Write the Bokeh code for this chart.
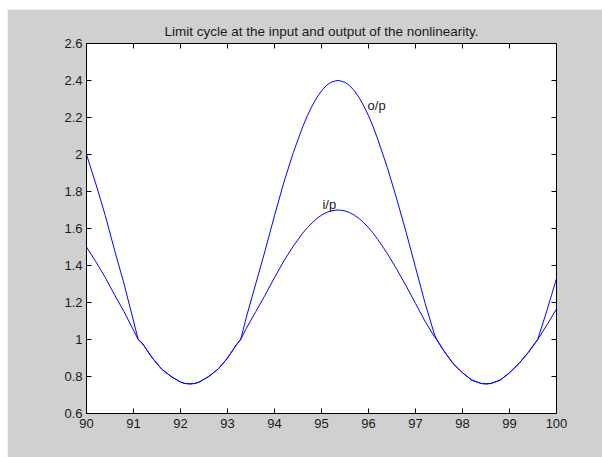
import math
from bokeh.plotting import figure
from bokeh.models import LinearAxis, FixedTicker, Range1d, Label
from bokeh.embed import file_html
from bokeh.resources import INLINE

# data
x_vals = [90.0, 90.2, 90.4, 90.6, 90.8, 91.0, 91.1, 91.2, 91.4, 91.6, 91.8, 92.0, 92.1,
          92.2, 92.3, 92.4, 92.6, 92.8, 93.0, 93.2, 93.28, 93.4, 93.6, 93.8, 94.0, 94.2,
          94.4, 94.6, 94.7, 94.8, 94.9, 95.0, 95.1, 95.2, 95.3, 95.35, 95.4, 95.5, 95.6,
          95.7, 95.8, 95.9, 96.0, 96.1, 96.2, 96.4, 96.6, 96.8, 97.0, 97.2, 97.4, 97.45,
          97.6, 97.8, 98.0, 98.2, 98.4, 98.5, 98.6, 98.8, 99.0, 99.2, 99.4, 99.6, 99.8,
          100.0]
ip_vals = [1.50, 1.42, 1.335, 1.24, 1.15, 1.05, 1.00, 0.975, 0.90, 0.84, 0.80, 0.77, 0.762,
           0.76, 0.762, 0.77, 0.80, 0.84, 0.90, 0.975, 1.00, 1.06, 1.15, 1.24, 1.335, 1.425,
           1.505, 1.575, 1.605, 1.63, 1.654, 1.672, 1.686, 1.695, 1.699, 1.70, 1.699, 1.695,
           1.686, 1.672, 1.654, 1.631, 1.605, 1.575, 1.54, 1.465, 1.38, 1.29, 1.195, 1.10,
           1.015, 1.00, 0.94, 0.87, 0.82, 0.78, 0.762, 0.76, 0.762, 0.78, 0.82, 0.87, 0.93,
           1.00, 1.08, 1.165]
op_vals = [2.00, 1.84, 1.67, 1.48, 1.30, 1.10, 1.00, 0.975, 0.90, 0.84, 0.80, 0.77, 0.762,
           0.76, 0.762, 0.77, 0.80, 0.84, 0.90, 0.975, 1.00, 1.12, 1.30, 1.48, 1.67, 1.85,
           2.01, 2.15, 2.21, 2.262, 2.308, 2.344, 2.372, 2.39, 2.398, 2.40, 2.398, 2.39,
           2.372, 2.344, 2.308, 2.262, 2.21, 2.15, 2.08, 1.93, 1.76, 1.58, 1.39, 1.20,
           1.03, 1.00, 0.94, 0.87, 0.82, 0.78, 0.762, 0.76, 0.762, 0.78, 0.82, 0.87, 0.93,
           1.00, 1.16, 1.33]
x_ticks = [90, 91, 92, 93, 94, 95, 96, 97, 98, 99, 100]
y_ticks = [0.6, 0.8, 1, 1.2, 1.4, 1.6, 1.8, 2, 2.2, 2.4, 2.6]
y_tick_labels = ["0.6", "0.8", "1", "1.2", "1.4", "1.6", "1.8", "2", "2.2", "2.4", "2.6"]
title_text = "Limit cycle at the input and output of the nonlinearity."
labels = [("o/p", 95.98, 2.265), ("i/p", 95.02, 1.73)]

FONT = "Liberation Sans"
GRAY = "#d0d0d0"
TXT = "#1a1a1a"

x0, x1 = x_ticks[0], x_ticks[-1]
y0, y1 = y_ticks[0], y_ticks[-1]

p = figure(width=595, height=448, output_backend="svg", toolbar_location=None,
           x_range=Range1d(x0, x1), y_range=Range1d(y0, y1),
           x_axis_location=None, y_axis_location=None,
           min_border_left=79, min_border_right=46, min_border_top=34, min_border_bottom=44)
p.margin = (9, 0, 0, 7)
p.border_fill_color = GRAY
p.background_fill_color = "white"
p.outline_line_color = "black"
p.xgrid.visible = False
p.ygrid.visible = False

p.title.text = title_text
p.title.text_font = FONT
p.title.text_font_size = "13.5px"
p.title.text_font_style = "normal"
p.title.align = "center"
p.title.text_color = TXT


def style_axis(ax):
    ax.axis_line_color = "black"
    ax.major_tick_line_color = "black"
    ax.major_tick_in = 5
    ax.major_tick_out = 0
    ax.minor_tick_line_color = None
    ax.major_label_text_font = FONT
    ax.major_label_text_color = TXT
    ax.major_label_text_font_size = "13px"


left = LinearAxis(ticker=FixedTicker(ticks=y_ticks),
                  major_label_overrides={t: s for t, s in zip(y_ticks, y_tick_labels)})
below = LinearAxis(ticker=FixedTicker(ticks=x_ticks),
                   major_label_overrides={t: str(t) for t in x_ticks})
style_axis(left)
style_axis(below)
left.major_label_standoff = 4
below.major_label_standoff = 5
p.add_layout(left, "left")
p.add_layout(below, "below")

# inward ticks on the top and right edges (box on)
p.ray(x=x_ticks, y=[y1] * len(x_ticks), length=5, length_units="screen",
      angle=-math.pi / 2, line_color="black", line_width=1)
p.ray(x=[x1] * len(y_ticks), y=y_ticks, length=5, length_units="screen",
      angle=math.pi, line_color="black", line_width=1)

p.line(x_vals, ip_vals, line_color="#0000ff", line_width=1)
p.line(x_vals, op_vals, line_color="#0000ff", line_width=1)

for txt, lx, ly in labels:
    p.add_layout(Label(x=lx, y=ly, text=txt, text_font=FONT, text_font_size="13px",
                       text_color=TXT, text_baseline="middle", text_align="left"))

open("out.html", "w").write(file_html(p, INLINE))
